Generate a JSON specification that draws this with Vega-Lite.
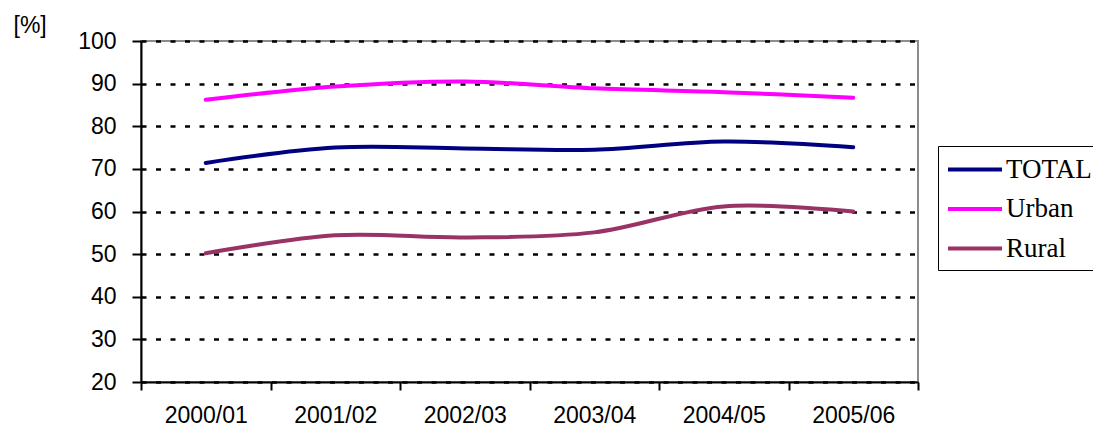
{
  "$schema": "https://vega.github.io/schema/vega-lite/v6.json",
  "width": 777,
  "height": 341,
  "autosize": {"type": "none"},
  "padding": {"left": 141, "top": 41, "right": 175, "bottom": 45},
  "background": "white",
  "config": {
    "view": {"stroke": "#8c8c8c", "strokeWidth": 2},
    "font": "Liberation Sans"
  },
  "data": {
    "values": [
      {"year": "2000/01", "group": "TOTAL", "pct": 71.4},
      {"year": "2001/02", "group": "TOTAL", "pct": 75.0},
      {"year": "2002/03", "group": "TOTAL", "pct": 74.8},
      {"year": "2003/04", "group": "TOTAL", "pct": 74.5},
      {"year": "2004/05", "group": "TOTAL", "pct": 76.4},
      {"year": "2005/06", "group": "TOTAL", "pct": 75.1},
      {"year": "2000/01", "group": "Urban", "pct": 86.2},
      {"year": "2001/02", "group": "Urban", "pct": 89.3},
      {"year": "2002/03", "group": "Urban", "pct": 90.5},
      {"year": "2003/04", "group": "Urban", "pct": 88.9},
      {"year": "2004/05", "group": "Urban", "pct": 88.0},
      {"year": "2005/06", "group": "Urban", "pct": 86.7},
      {"year": "2000/01", "group": "Rural", "pct": 50.2},
      {"year": "2001/02", "group": "Rural", "pct": 54.4},
      {"year": "2002/03", "group": "Rural", "pct": 53.9},
      {"year": "2003/04", "group": "Rural", "pct": 55.1},
      {"year": "2004/05", "group": "Rural", "pct": 61.2},
      {"year": "2005/06", "group": "Rural", "pct": 60.0}
    ]
  },
  "mark": {"type": "line", "interpolate": "catmull-rom", "strokeWidth": 4, "strokeCap": "round"},
  "encoding": {
    "x": {
      "field": "year",
      "type": "ordinal",
      "scale": {"type": "band", "paddingInner": 0, "paddingOuter": 0},
      "axis": {
        "title": null,
        "labelAngle": 0,
        "labelFont": "Liberation Sans",
        "labelFontSize": 23,
        "labelColor": "black",
        "labelPadding": 14,
        "tickBand": "extent",
        "tickColor": "black",
        "tickWidth": 2,
        "tickSize": 8,
        "domainColor": "black",
        "domainWidth": 2,
        "grid": false
      }
    },
    "y": {
      "field": "pct",
      "type": "quantitative",
      "scale": {"domain": [20, 100], "nice": false, "zero": false},
      "axis": {
        "title": "[%]",
        "titleAngle": 0,
        "titleAlign": "left",
        "titleBaseline": "alphabetic",
        "titleX": -128,
        "titleY": -9,
        "titleFont": "Liberation Sans",
        "titleFontSize": 23,
        "titleFontWeight": "normal",
        "titleColor": "black",
        "values": [20, 30, 40, 50, 60, 70, 80, 90, 100],
        "labelFont": "Liberation Sans",
        "labelFontSize": 23,
        "labelColor": "black",
        "labelPadding": 16,
        "tickColor": "black",
        "tickWidth": 2,
        "tickSize": 9,
        "domainColor": "black",
        "domainWidth": 2,
        "grid": true,
        "gridColor": "black",
        "gridWidth": 2.5,
        "gridDash": [5, 9.5]
      }
    },
    "color": {
      "field": "group",
      "type": "nominal",
      "scale": {"domain": ["TOTAL", "Urban", "Rural"], "range": ["#000080", "#ff00ff", "#993366"]},
      "legend": {
        "title": null,
        "orient": "none",
        "legendX": 797,
        "legendY": 105,
        "symbolType": "M-1,0H3",
        "symbolSize": 729,
        "symbolStrokeWidth": 4,
        "labelFont": "Liberation Serif",
        "labelFontSize": 27,
        "labelColor": "black",
        "labelOffset": 29,
        "strokeColor": "black",
        "padding": 8,
        "rowPadding": 10.5
      }
    }
  }
}
